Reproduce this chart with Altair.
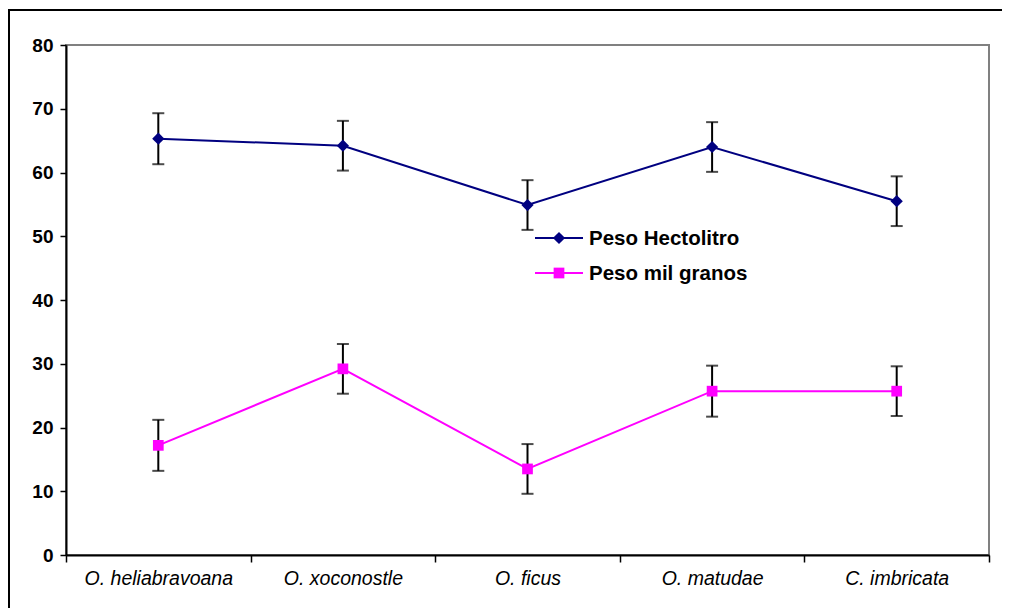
import altair as alt
import pandas as pd

species = ["O. heliabravoana", "O. xoconostle", "O. ficus", "O. matudae", "C. imbricata"]
series_names = ["Peso Hectolitro", "Peso mil granos"]
hectolitro = [65.3, 64.2, 54.9, 64.0, 55.5]
hectolitro_err = [4.0, 3.9, 3.9, 3.9, 3.9]
mil_granos = [17.2, 29.2, 13.5, 25.7, 25.7]
mil_granos_err = [4.0, 3.9, 3.9, 4.0, 3.9]
y_ticks = [0, 10, 20, 30, 40, 50, 60, 70, 80]

colors = ["#000080", "#FF00FF"]
shapes = ["diamond", "square"]
sizes = [150, 115]

rows = []
for name, vals, errs in [(series_names[0], hectolitro, hectolitro_err),
                         (series_names[1], mil_granos, mil_granos_err)]:
    for sp, v, e in zip(species, vals, errs):
        rows.append({"species": sp, "series": name, "value": v, "lo": v - e, "hi": v + e})
df = pd.DataFrame(rows)

FONT = "Liberation Sans"
W, H = 923, 510

x_enc = alt.X(
    "species:N", sort=species,
    scale=alt.Scale(type="band", paddingInner=0, paddingOuter=0),
    axis=alt.Axis(title=None, tickBand="extent", labelAngle=0, labelFont=FONT,
                  labelFontStyle="italic", labelFontSize=19.5, labelColor="black",
                  labelPadding=7, domainColor="black", domainWidth=2,
                  tickColor="black", tickWidth=1.5, tickSize=7),
)
y_scale = alt.Scale(domain=[0, 80], nice=False)
y_axis = alt.Axis(title=None, values=y_ticks, grid=False, labelFont=FONT,
                  labelFontWeight="bold", labelFontSize=19, labelColor="black",
                  labelPadding=7, domainColor="black", domainWidth=2,
                  tickColor="black", tickWidth=1.5, tickSize=6)

layers = []
for i, name in enumerate(series_names):
    d = df[df["series"] == name]
    base = alt.Chart(d)
    layers.append(base.mark_line(color=colors[i], strokeWidth=2).encode(
        x=x_enc, y=alt.Y("value:Q", scale=y_scale, axis=y_axis)))
for i, name in enumerate(series_names):
    d = df[df["series"] == name]
    base = alt.Chart(d)
    layers.append(base.mark_rule(color="black", strokeWidth=2).encode(
        x=x_enc, y=alt.Y("lo:Q", scale=y_scale, axis=y_axis), y2="hi:Q"))
    layers.append(base.mark_tick(color="black", thickness=2, size=12, orient="horizontal").encode(
        x=x_enc, y=alt.Y("lo:Q", scale=y_scale, axis=y_axis)))
    layers.append(base.mark_tick(color="black", thickness=2, size=12, orient="horizontal").encode(
        x=x_enc, y=alt.Y("hi:Q", scale=y_scale, axis=y_axis)))
for i, name in enumerate(series_names):
    d = df[df["series"] == name]
    base = alt.Chart(d)
    layers.append(base.mark_point(filled=True, shape=shapes[i], size=sizes[i],
                                  color=colors[i], opacity=1).encode(
        x=x_enc, y=alt.Y("value:Q", scale=y_scale, axis=y_axis)))

# legend (manual, inside plot)
for i, name in enumerate(series_names):
    ld = pd.DataFrame({"label": [name]})
    ly = 193 + 35 * i
    lb = alt.Chart(ld)
    layers.append(lb.mark_rule(color=colors[i], strokeWidth=2).encode(
        x=alt.value(469), x2=alt.value(517), y=alt.value(ly)))
    layers.append(lb.mark_point(filled=True, shape=shapes[i], size=sizes[i],
                                color=colors[i], opacity=1).encode(
        x=alt.value(493), y=alt.value(ly)))
    layers.append(lb.mark_text(align="left", baseline="middle", font=FONT,
                               fontWeight="bold", fontSize=20.5, color="black").encode(
        text="label:N", x=alt.value(523), y=alt.value(ly + 1)))

# outer frame
frame = alt.Chart(pd.DataFrame({"f": [0]})).mark_rect(
    fill="transparent", stroke="black", strokeWidth=2).encode(
    x=alt.value(-57), x2=alt.value(W + 60), y=alt.value(-35), y2=alt.value(H + 100))
layers.append(frame)

chart = alt.layer(*layers).properties(
    width=W, height=H,
    padding={"left": 58, "top": 37, "right": 13, "bottom": 53},
    autosize=alt.AutoSizeParams(type="none"),
    background="white",
).configure_view(stroke="#808080", strokeWidth=2)

chart.save("out.html", embed_options={"renderer": "svg", "actions": False})
